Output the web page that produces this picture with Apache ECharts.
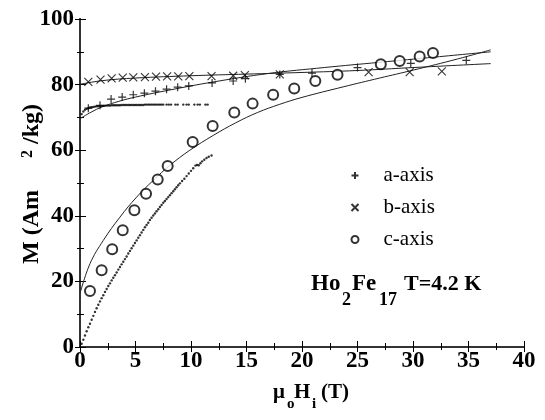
<!DOCTYPE html>
<html>
<head>
<meta charset="utf-8">
<script src="https://cdn.jsdelivr.net/npm/echarts@6/dist/echarts.min.js"></script>
<style>
  html, body { margin: 0; padding: 0; background: #fff; }
  #chart { width: 545px; height: 420px; }
</style>
</head>
<body>
<div id="chart"></div>
<script>
// Ho2Fe17 single crystal, magnetisation along the three axes at 4.2 K

// discrete high-field points (field in T, M in Am2/kg)
const aField = [0.75, 1.8, 2.8, 3.8, 4.8, 5.8, 6.8, 7.8, 8.8, 9.8, 11.9, 13.8, 14.9, 18.0, 20.9, 25.0, 29.8, 34.8];
const aM     = [72.8, 73.7, 75.6, 76.2, 76.9, 77.4, 78.0, 78.6, 79.2, 79.6, 80.5, 81.1, 81.8, 83.1, 83.5, 85.2, 86.5, 87.4];

const bField = [0.75, 1.85, 2.85, 3.85, 4.8, 5.85, 6.85, 7.85, 8.85, 9.85, 11.85, 13.8, 14.85, 18.0, 26.0, 29.7, 32.6];
const bM     = [80.8, 81.5, 81.9, 82.1, 82.2, 82.3, 82.4, 82.5, 82.5, 82.6, 82.6, 82.7, 82.9, 83.1, 83.8, 83.8, 84.0];

const cField = [0.9, 1.95, 2.9, 3.85, 4.9, 5.95, 7.0, 7.9, 10.15, 11.95, 13.9, 15.55, 17.4, 19.3, 21.2, 23.2, 27.1, 28.8, 30.6, 31.8];
const cM     = [17.1, 23.4, 29.8, 35.6, 41.7, 46.7, 51.1, 55.2, 62.5, 67.4, 71.5, 74.2, 76.9, 78.8, 81.1, 83.0, 86.2, 87.2, 88.6, 89.6];

// continuous low-field sweeps
const aScanField = [0.15, 0.3, 0.45, 0.6, 0.75, 0.9, 1.05, 1.2, 1.35, 1.5, 1.65, 1.8, 1.95, 2.1, 2.25, 2.4, 2.55, 2.7, 2.85, 3.0,
  3.15, 3.3, 3.45, 3.6, 3.75, 3.9, 4.05, 4.2, 4.35, 4.5, 4.65, 4.8, 4.95, 5.1, 5.25, 5.4, 5.55, 5.7, 5.85, 6.0,
  6.15, 6.3, 6.45, 6.6, 6.75, 6.9, 7.05, 7.2, 7.35, 7.5, 7.8, 8.0, 8.2, 8.6, 8.8, 9.3, 9.6, 9.8, 10.3, 10.6, 10.8, 11.3, 11.5];
const aScanM = [71.0, 71.8, 72.3, 72.6, 72.8, 73.0, 73.1, 73.2, 73.3, 73.4, 73.4, 73.5, 73.5, 73.5, 73.6, 73.6, 73.6, 73.6, 73.7, 73.7,
  73.7, 73.7, 73.7, 73.7, 73.8, 73.8, 73.8, 73.8, 73.8, 73.8, 73.8, 73.8, 73.8, 73.8, 73.8, 73.8, 73.8, 73.8, 73.9, 73.9,
  73.9, 73.9, 73.9, 73.9, 73.9, 73.9, 73.9, 73.9, 73.9, 73.9, 73.9, 73.9, 73.9, 73.9, 73.9, 73.9, 73.9, 73.9, 73.9, 73.9, 73.9, 73.9, 73.9];

const cScanField = [0.15, 0.3, 0.45, 0.6, 0.75, 0.9, 1.05, 1.2, 1.35, 1.5, 1.65, 1.8, 1.95, 2.1, 2.25, 2.4, 2.55, 2.7, 2.85, 3.0,
  3.15, 3.3, 3.45, 3.6, 3.75, 3.9, 4.05, 4.2, 4.35, 4.5, 4.65, 4.8, 4.95, 5.1, 5.25, 5.4, 5.55, 5.7, 5.85, 6.0,
  6.15, 6.3, 6.45, 6.6, 6.75, 6.9, 7.05, 7.2, 7.35, 7.5, 7.65, 7.8, 7.95, 8.1, 8.25, 8.4, 8.55, 8.7, 8.85, 9.0,
  9.2, 9.4, 9.6, 9.8, 10.0, 10.2, 10.4, 10.55, 10.7, 10.85, 11.0, 11.2, 11.4, 11.6, 11.85];
const cScanM = [1.0, 2.2, 3.5, 4.8, 6.0, 7.1, 8.3, 9.5, 10.7, 11.8, 12.9, 13.9, 14.9, 15.8, 16.8, 17.7, 18.6, 19.4, 20.3, 21.1,
  21.9, 22.7, 23.6, 24.4, 25.2, 26.0, 26.8, 27.6, 28.5, 29.3, 30.1, 30.9, 31.7, 32.5, 33.3, 34.1, 34.9, 35.7, 36.5, 37.2,
  37.9, 38.7, 39.4, 40.1, 40.7, 41.4, 42.0, 42.7, 43.3, 44.0, 44.5, 45.1, 45.7, 46.3, 46.9, 47.5, 48.1, 48.7, 49.3, 49.9,
  50.6, 51.3, 52.1, 52.9, 53.7, 54.5, 55.3, 55.5, 55.4, 56.0, 56.6, 57.1, 57.6, 58.0, 58.4];

// fitted curves
const aFitField = [0, 1, 2, 3.5, 5, 8, 12, 17, 22, 27, 32, 37];
const aFitM     = [69.6, 71.6, 73.2, 74.9, 76.2, 78.3, 80.8, 83.4, 85.2, 86.8, 88.4, 90.0];
const bFitField = [0, 2, 5, 10, 15, 20, 25, 30, 37];
const bFitM     = [80.1, 81.2, 82.0, 82.7, 83.2, 83.7, 84.3, 85.2, 86.4];
const cFitField = [0, 0.9, 2.1, 3.6, 5.1, 6.6, 8.1, 9.9, 12, 14, 16, 18, 20, 23.7, 27, 30, 34, 37];
const cFitM     = [16.3, 25.4, 32.5, 39.6, 45.7, 50.8, 55.4, 60, 64.5, 68.3, 71.5, 74.0, 76.1, 79.3, 82.0, 84.4, 87.8, 90.6];

const zip = (xs, ys) => xs.map((x, i) => [x, ys[i]]);

const SERIF = "'Liberation Serif', 'Times New Roman', serif";
const PLUS = 'path://M0,5L10,5M5,0L5,10';
const CROSS = 'path://M0,0L10,10M10,0L0,10';

const chart = echarts.init(document.getElementById('chart'), null, { renderer: 'canvas' });

const labelStyle = { fontFamily: SERIF, fontWeight: 'bold', fontSize: 23, color: '#000' };

function fitLine(name, xs, ys) {
  return {
    name, type: 'line', data: zip(xs, ys), smooth: 0.4, showSymbol: false, silent: true,
    lineStyle: { color: '#222', width: 1 }, z: 1
  };
}
function scan(name, xs, ys) {
  return {
    name, type: 'scatter', data: zip(xs, ys), symbol: 'circle', symbolSize: 2.4, silent: true,
    itemStyle: { color: '#000' }, z: 2
  };
}
// bold serif text piece, vertically centred on cy
function word(text, x, cy, size) {
  return {
    type: 'text', x, y: cy, silent: true,
    style: { text, fontFamily: SERIF, fontWeight: 'bold', fontSize: size, fill: '#000', align: 'left', verticalAlign: 'middle' }
  };
}

chart.setOption({
  animation: false,
  backgroundColor: '#fff',
  grid: { left: 80, right: 21, top: 19, bottom: 73, containLabel: false },
  xAxis: [
    {
      type: 'value', min: 0, max: 40, interval: 5, position: 'bottom',
      axisLine: { lineStyle: { color: '#000', width: 2 } },
      axisTick: { inside: true, length: 6, lineStyle: { color: '#000', width: 1 } },
      minorTick: { show: true, splitNumber: 2, length: 4, lineStyle: { color: '#000', width: 1 } },
      axisLabel: Object.assign({ margin: 3 }, labelStyle),
      splitLine: { show: false }
    },
    {
      type: 'value', min: 0, max: 40, interval: 5, position: 'top',
      axisLine: { lineStyle: { color: '#444', width: 1.5 } },
      axisTick: { inside: true, length: 5, lineStyle: { color: '#000', width: 1 } },
      minorTick: { show: true, splitNumber: 2, length: 3, lineStyle: { color: '#000', width: 1 } },
      axisLabel: { show: false }, splitLine: { show: false }
    }
  ],
  yAxis: [
    {
      type: 'value', min: 0, max: 100, interval: 20, position: 'left',
      axisLine: { show: true, lineStyle: { color: '#000', width: 2 } },
      axisTick: { show: true, inside: true, length: 6, lineStyle: { color: '#000', width: 1 } },
      minorTick: { show: true, splitNumber: 2, length: 4, lineStyle: { color: '#000', width: 1 } },
      axisLabel: Object.assign({ margin: 6 }, labelStyle),
      splitLine: { show: false }
    },
    {
      type: 'value', min: 0, max: 100, interval: 20, position: 'right',
      axisLine: { show: true, lineStyle: { color: '#444', width: 1.5 } },
      axisTick: { show: true, inside: true, length: 5, lineStyle: { color: '#000', width: 1 } },
      minorTick: { show: true, splitNumber: 2, length: 3, lineStyle: { color: '#000', width: 1 } },
      axisLabel: { show: false }, splitLine: { show: false }
    }
  ],
  legend: {
    data: ['a-axis', 'b-axis', 'c-axis'],
    orient: 'vertical', left: 344, top: 160,
    itemWidth: 7, itemHeight: 7, itemGap: 11,
    textStyle: { fontFamily: SERIF, fontSize: 21, color: '#000', padding: [0, 0, 0, 20] },
    selectedMode: false
  },
  graphic: [
    // compound and temperature
    {
      type: 'group', silent: true,
      children: [
        word('Ho', 311, 284, 23),
        word('2', 342, 300, 18),
        word('Fe', 352, 284, 23),
        word('17', 379, 300, 18),
        word('T=4.2 K', 404, 284, 22)
      ]
    },
    // field axis title
    {
      type: 'group', silent: true,
      children: [
        word('μ', 273, 393, 21),
        word('o', 287, 404, 15),
        word('H', 294, 393, 21),
        word('i', 312, 404, 15),
        word('(T)', 321, 393, 21)
      ]
    },
    // magnetisation axis title, reading upwards
    {
      type: 'group', x: 32, y: 264, rotation: Math.PI / 2, silent: true,
      children: [
        word('M (Am', 0, 0, 24),
        word('2', 106, -4, 16),
        word('/kg)', 120, 0, 24)
      ]
    }
  ],
  series: [
    fitLine('a-fit', aFitField, aFitM),
    fitLine('b-fit', bFitField, bFitM),
    fitLine('c-fit', cFitField, cFitM),
    scan('a-scan', aScanField, aScanM),
    scan('c-scan', cScanField, cScanM),
    {
      name: 'a-axis', type: 'scatter', data: zip(aField, aM), symbol: PLUS, symbolSize: 8,
      itemStyle: { color: 'none', borderColor: '#000', borderWidth: 1.2 }, z: 3
    },
    {
      name: 'b-axis', type: 'scatter', data: zip(bField, bM), symbol: CROSS, symbolSize: 8,
      itemStyle: { color: 'none', borderColor: '#000', borderWidth: 1.1 }, z: 3
    },
    {
      name: 'c-axis', type: 'scatter', data: zip(cField, cM), symbol: 'emptyCircle', symbolSize: 10,
      itemStyle: { color: '#000', borderColor: '#000', borderWidth: 1.1 }, z: 3
    }
  ]
});
</script>
</body>
</html>
